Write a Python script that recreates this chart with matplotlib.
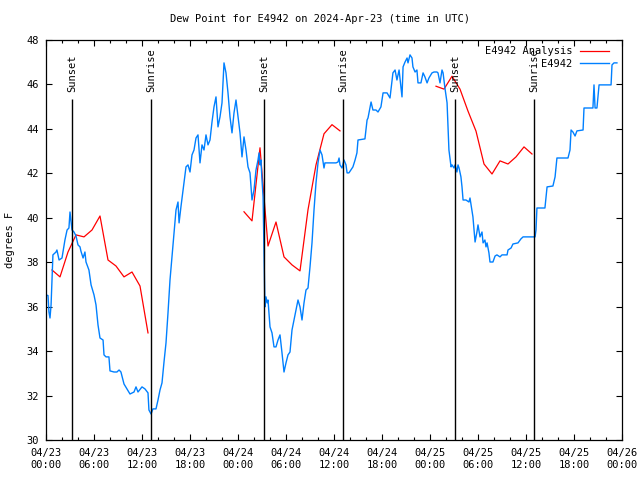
import numpy as np
import matplotlib.pyplot as plt
import matplotlib.dates as mdates

# station observations: hours since 2024-04-23 00:00 UTC, dew point (F)
obs_hours = [
    0.0, 0.25, 0.375, 0.5, 0.625, 0.875, 1.25, 1.375, 1.625, 2.0, 2.375, 2.625,
    2.875, 3.0, 3.125, 3.25, 3.5, 3.75, 4.0, 4.25, 4.375, 4.625, 4.875, 5.0,
    5.375, 5.625, 6.0, 6.25, 6.5, 6.75, 7.125, 7.25, 7.5, 7.875, 8.0, 8.5,
    8.875, 9.125, 9.375, 9.75, 10.5, 11.0, 11.25, 11.5, 12.0, 12.375, 12.75,
    12.875, 13.125, 13.375, 13.75, 14.0, 14.25, 14.5, 14.75, 15.0, 15.25, 15.5,
    15.75, 16.0, 16.25, 16.5, 16.625, 16.875, 17.25, 17.5, 17.75, 18.0, 18.25,
    18.5, 18.75, 19.0, 19.25, 19.5, 19.75, 20.0, 20.25, 20.5, 20.75, 21.0,
    21.25, 21.5, 21.75, 22.0, 22.25, 22.5, 22.75, 23.0, 23.25, 23.5, 23.75,
    24.0, 24.25, 24.5, 24.75, 25.0, 25.25, 25.5, 25.75, 26.0, 26.25, 26.5,
    26.625, 26.75, 26.875, 27.0, 27.125, 27.25, 27.375, 27.5, 27.625, 27.75,
    28.0, 28.25, 28.5, 28.75, 29.0, 29.25, 29.5, 29.75, 30.0, 30.25, 30.5,
    30.75, 31.0, 31.25, 31.5, 31.75, 32.0, 32.25, 32.5, 32.75, 33.0, 33.25,
    33.5, 33.75, 34.0, 34.25, 34.5, 34.75, 34.875, 35.25, 35.75, 36.25, 36.5,
    36.625, 36.75, 37.0, 37.25, 37.5, 37.625, 37.875, 38.375, 38.625, 38.875,
    39.0, 39.875, 40.125, 40.25, 40.625, 40.875, 41.25, 41.5, 41.875, 42.125,
    42.625, 43.0, 43.375, 43.625, 43.875, 44.125, 44.5, 44.625, 44.875, 45.125,
    45.25, 45.5, 45.75, 45.875, 46.125, 46.375, 46.5, 46.875, 47.125, 47.375,
    47.625, 47.875, 48.25, 48.5, 48.875, 49.0, 49.25, 49.5, 49.625, 49.875,
    50.125, 50.25, 50.375, 50.625, 50.75, 51.0, 51.125, 51.375, 51.5, 51.625,
    51.875, 52.0, 52.125, 52.5, 52.875, 53.0, 53.125, 53.375, 53.5, 53.625,
    53.875, 54.0, 54.25, 54.5, 54.625, 54.875, 55.0, 55.125, 55.375, 55.5,
    55.875, 56.125, 56.375, 56.75, 57.0, 57.625, 57.75, 58.125, 58.375, 59.0,
    59.375, 59.625, 61.125, 61.25, 61.375, 62.375, 62.625, 63.375, 63.625,
    63.875, 65.25, 65.5, 65.625, 65.875, 66.125, 66.375, 67.125, 67.25, 68.375,
    68.5, 68.625, 68.875, 69.125, 69.5, 70.625, 70.75, 71.0, 71.375,
]
obs_dewpt = [
    36.53, 36.5, 35.76, 35.49, 36.08, 38.33, 38.46, 38.55, 38.1, 38.19, 39.0, 39.45,
    39.54, 40.26, 39.81, 39.45, 39.36, 39.18, 38.78, 38.69, 38.5, 38.19, 38.46, 38.01,
    37.65, 36.98, 36.53, 36.08, 35.18, 34.59, 34.5, 33.83, 33.74, 33.74, 33.11, 33.06,
    33.06, 33.15, 33.06, 32.52, 32.07, 32.16, 32.39, 32.16, 32.39, 32.3, 32.12,
    31.35, 31.17, 31.4, 31.4, 31.8, 32.25, 32.57, 33.51, 34.37, 35.72, 37.2,
    38.24, 39.32, 40.35, 40.71, 39.77, 40.49, 41.57, 42.29, 42.38, 42.06, 42.83,
    43.05, 43.59, 43.73, 42.47, 43.28, 43.05, 43.73, 43.28, 43.5, 44.31, 44.99,
    45.44, 44.09, 44.54, 45.17, 46.97, 46.52, 45.62, 44.54, 43.82, 44.72, 45.3,
    44.54, 43.82, 42.74, 43.64, 43.05, 42.29, 42.02, 40.8, 41.25, 42.15, 42.6,
    42.92, 42.38, 42.6, 41.7, 40.94, 38.55, 35.99, 36.44, 36.17, 36.3,
    35.09, 34.82, 34.19, 34.19, 34.5, 34.73, 33.92, 33.06, 33.47, 33.83, 33.96,
    34.95, 35.4, 35.85, 36.3, 35.99, 35.4, 36.17, 36.75, 36.84, 37.79, 38.87,
    40.35, 41.57, 42.47, 43.05, 42.83, 42.24, 42.47, 42.47, 42.47, 42.47, 42.51,
    42.69, 42.38, 42.24, 42.6, 42.38, 42.02, 42.02, 42.29, 42.6, 42.92,
    43.5, 43.55, 44.4, 44.49, 45.21, 44.85, 44.85, 44.76, 44.99, 45.62,
    45.62, 45.39, 46.52, 46.65, 46.2, 46.65, 45.44, 46.79, 47.0, 47.19,
    46.97, 47.33, 47.19, 46.79, 46.56, 46.65, 46.07, 46.07, 46.52, 46.34,
    46.07, 46.29, 46.52, 46.56, 46.56, 46.52, 46.07, 46.65, 46.52, 45.84,
    45.17, 44.09, 43.05, 42.29, 42.38, 42.24, 42.38, 42.06, 42.38, 42.24,
    41.84, 41.39, 40.8, 40.8, 40.71, 40.89, 40.58, 40.04, 39.45, 38.91,
    39.36, 39.68, 39.14, 39.36, 38.87, 39.0, 38.69, 38.87, 38.42, 38.01,
    38.01, 38.28, 38.33, 38.24, 38.33, 38.33, 38.55, 38.64, 38.82, 38.87,
    39.05, 39.14, 39.14, 39.45, 40.44, 40.44, 41.39, 41.43, 41.84,
    42.69, 42.69, 43.05, 43.95, 43.86, 43.68, 43.91, 43.95, 44.94, 44.94,
    45.98, 44.94, 44.94, 45.98, 45.98, 45.98, 46.88, 46.97, 46.97,
]

# analysis: three 12-hour runs, hourly values
analysis_starts = [0.75, 24.75, 48.75]
analysis_runs = [
    [37.65, 37.34, 38.46, 39.23, 39.14, 39.45, 40.08, 38.1, 37.83, 37.34, 37.56, 36.93, 34.82],
    [40.27, 39.86, 43.15, 38.73, 39.81, 38.24, 37.88, 37.61, 40.36, 42.38, 43.78, 44.19, 43.91],
    [45.92, 45.79, 46.37, 45.79, 44.8, 43.9, 42.42, 41.97, 42.56, 42.42, 42.74, 43.19, 42.87],
]

sun_hours = [3.25, 13.125, 27.25, 37.125, 51.125, 61.0]
sun_names = ["Sunset", "Sunrise", "Sunset", "Sunrise", "Sunset", "Sunrise"]

base = np.datetime64("2024-04-23T00:00")


def to_time(hours):
    mins = np.round(np.asarray(hours, dtype=float) * 60).astype(int)
    return base + mins.astype("timedelta64[m]")


plt.rcParams["font.family"] = "DejaVu Sans Mono"
plt.rcParams["font.size"] = 7.5

fig = plt.figure(figsize=(6.4, 4.8), dpi=100)
ax = fig.add_axes([46 / 640, 40 / 480, 576 / 640, 400 / 480])

for i, (start, run) in enumerate(zip(analysis_starts, analysis_runs)):
    hrs = start + np.arange(len(run))
    ax.plot(to_time(hrs), run, color="#ff0000", lw=0.9,
            label="E4942 Analysis" if i == 0 else None)

ax.plot(to_time(obs_hours), obs_dewpt, color="#0080ff", lw=1.0, label="E4942")

line_top = 45.35
for h, name in zip(sun_hours, sun_names):
    t = to_time([h])[0]
    ax.vlines(t, 30, line_top, color="black", lw=1.0)
    ax.text(t, line_top + 0.3, name, rotation=90, ha="center", va="bottom")

ax.set_xlim(base, base + np.timedelta64(72, "h"))
ax.set_ylim(30, 48)
ax.set_yticks(np.arange(30, 49, 2))
ax.xaxis.set_major_locator(mdates.HourLocator(byhour=range(0, 24, 6)))
ax.xaxis.set_minor_locator(mdates.HourLocator(byhour=range(0, 24, 2)))
ax.xaxis.set_major_formatter(mdates.DateFormatter("%m/%d\n%H:%M"))

ax.tick_params(which="both", direction="in", top=True, right=True, width=0.8)
ax.tick_params(which="major", length=4.5)
ax.tick_params(which="minor", length=2.5)
ax.tick_params(axis="x", pad=6)
ax.tick_params(axis="y", pad=5)
for s in ax.spines.values():
    s.set_linewidth(0.9)

ax.set_ylabel("degrees F")
ax.yaxis.set_label_coords(-0.054, 0.5)

leg = ax.legend(loc="upper right", bbox_to_anchor=(1 - 7 / 576, 1),
                frameon=False, markerfirst=False,
                handlelength=2.8, handletextpad=0.7, labelspacing=0.25,
                borderaxespad=0.3, borderpad=0.3)
leg._legend_box.align = "right"

fig.text(0.5, 1 - 19 / 480, "Dew Point for E4942 on 2024-Apr-23 (time in UTC)",
         ha="center", va="center")

fig.savefig("out.png", dpi=100)
